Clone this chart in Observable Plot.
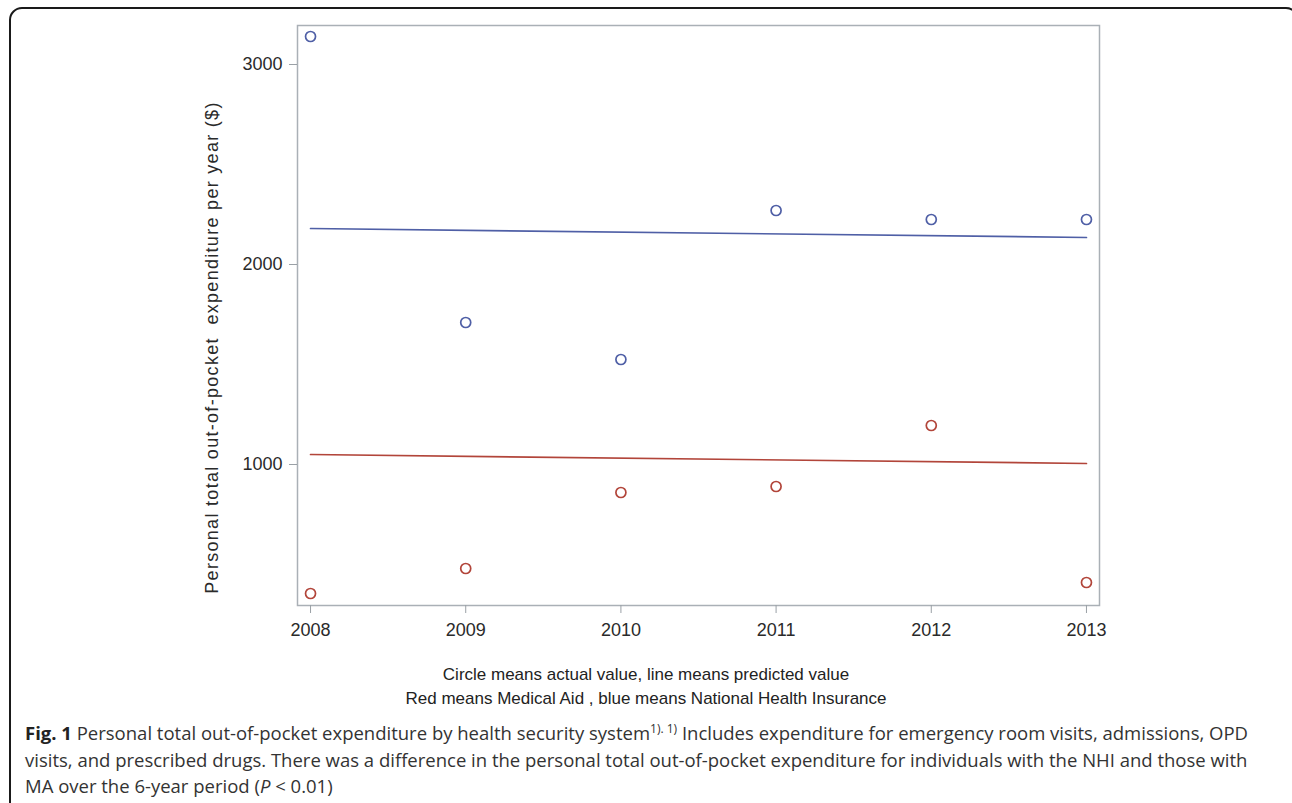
<!DOCTYPE html>
<html>
<head>
<meta charset="utf-8">
<script src="https://cdn.jsdelivr.net/npm/d3@7"></script>
<script src="https://cdn.jsdelivr.net/npm/@observablehq/plot@0.6"></script>
<style>
  html, body { margin: 0; padding: 0; background: #fff; }
  #page { position: relative; width: 1292px; height: 803px; overflow: hidden; background: #fff; }
  #border { position: absolute; left: 9px; top: 7px; width: 1290px; height: 830px; border: 2px solid #1a1a1a; border-radius: 13px; box-sizing: border-box; }
  #chart { position: absolute; left: 0; top: 0; }
  #chart .ylabel text { letter-spacing: 1.3px; }
  .sub { position: absolute; left: 0; width: 1292px; text-align: center; font-family: "Liberation Sans", Arial, sans-serif; font-size: 17px; color: #222; }
  #caption { position: absolute; left: 25px; top: 720px; font-family: "Open Sans", sans-serif; font-size: 18.5px; line-height: 26.7px; color: #333; white-space: nowrap; }
  #caption b { color: #222; }
  #caption sup { font-size: 12px; line-height: 0; }
</style>
</head>
<body>
<div id="page">
  <div id="border"></div>
  <div id="chart"></div>
  <div class="sub" id="sub1" style="top:665px">Circle means actual value, line means predicted value</div>
  <div class="sub" id="sub2" style="top:689px">Red means Medical Aid , blue means National Health Insurance</div>
  <div id="caption"><b>Fig. 1</b> Personal total out-of-pocket expenditure by health security system<sup>1). 1)</sup> Includes expenditure for emergency room visits, admissions, OPD<br>visits, and prescribed drugs. There was a difference in the personal total out-of-pocket expenditure for individuals with the NHI and those with<br>MA over the 6-year period (<i>P</i> &lt; 0.01)</div>
</div>
<script>
// Data
const years = [2008, 2009, 2010, 2011, 2012, 2013];
const nhiActual = [3140, 1710, 1525, 2270, 2225, 2225];   // blue: National Health Insurance
const maActual = [355, 480, 860, 890, 1195, 410];         // red: Medical Aid
const fitYears = [2008, 2013];
const nhiPredicted = [2180, 2135];
const maPredicted = [1050, 1005];
const yTicks = [1000, 2000, 3000];
const yLabel = "Personal total out-of-pocket  expenditure per year ($)";

const blue = "#4f5fa6";
const red = "#b2453a";

const nhiPts = years.map((x, i) => ({x, y: nhiActual[i]}));
const maPts = years.map((x, i) => ({x, y: maActual[i]}));
const nhiFit = fitYears.map((x, i) => ({x, y: nhiPredicted[i]}));
const maFit = fitYears.map((x, i) => ({x, y: maPredicted[i]}));

const chart = Plot.plot({
  width: 1292,
  height: 650,
  marginLeft: 297,
  marginRight: 193,
  marginTop: 25,
  marginBottom: 45,
  style: {fontFamily: "'Liberation Sans', Arial, sans-serif", fontSize: "18px", color: "#333", background: "transparent"},
  x: {domain: [2007.916, 2013.084]},
  y: {domain: [295, 3195]},
  marks: [
    Plot.frame({stroke: "#aab0b6", strokeWidth: 1.5}),
    Plot.axisX({ticks: years, tickFormat: "d", tickSize: 8, tickPadding: 10, stroke: "#9aa0a6", fill: "#2a2a2a", label: null}),
    Plot.axisY({ticks: yTicks, tickFormat: "d", tickSize: 8, tickPadding: 7, stroke: "#9aa0a6", fill: "#2a2a2a", label: null}),
    Plot.line(nhiFit, {x: "x", y: "y", stroke: blue, strokeWidth: 1.7}),
    Plot.line(maFit, {x: "x", y: "y", stroke: red, strokeWidth: 1.7}),
    Plot.dot(nhiPts, {x: "x", y: "y", r: 5, stroke: blue, strokeWidth: 1.7}),
    Plot.dot(maPts, {x: "x", y: "y", r: 5, stroke: red, strokeWidth: 1.7}),
    Plot.text([yLabel], {frameAnchor: "left", textAnchor: "middle", rotate: -90, dx: -85, dy: 32, fontSize: 18, fill: "#2a2a2a", className: "ylabel"})
  ]
});
document.getElementById("chart").appendChild(chart);
</script>
</body>
</html>
